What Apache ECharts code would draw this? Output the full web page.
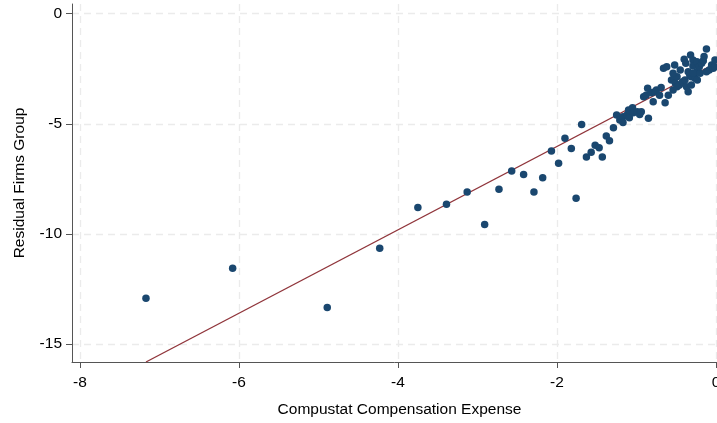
<!DOCTYPE html>
<html>
<head>
<meta charset="utf-8">
<script src="https://cdn.jsdelivr.net/npm/echarts@6/dist/echarts.min.js"></script>
<style>
  html, body { margin: 0; padding: 0; background: #ffffff; }
  #chart { width: 717px; height: 423px; }
</style>
</head>
<body>
<div id="chart"></div>
<script>
// Compensation expense (x) vs. residual firms group (y), one entry per group
const compensation = [
  -7.17, -6.08, -4.89, -4.23, -3.75, -3.39, -3.13, -2.91, -2.73, -2.57,
  -2.42, -2.29, -2.18, -2.07, -1.98, -1.90, -1.82, -1.76, -1.69, -1.63,
  -1.57, -1.52, -1.47, -1.43, -1.38, -1.34, -1.29, -1.25,
  -1.21, -1.17, -1.17, -1.12, -1.09, -1.05, -1.10, -1.04, -0.99, -0.96,
  -0.94, -0.85, -0.91, -0.88, -0.86, -0.81, -0.79, -0.77, -0.75, -0.71,
  -0.69, -0.64, -0.60, -0.54, -0.56, -0.53, -0.51, -0.49, -0.49, -0.46,
  -0.42, -0.39, -0.37, -0.35, -0.31, -0.33, -0.31, -0.26, -0.235, -0.24,
  -0.20, -0.66, -0.62, -0.52, -0.54, -0.45, -0.35, -0.40, -0.38, -0.32,
  -0.29, -0.29, -0.24, -0.21, -0.18, -0.16, -0.15, -0.12, -0.085, -0.055,
  -0.034, -0.013, -0.013, -0.12, -0.29
];
const residual = [
  -12.92, -11.56, -13.34, -10.65, -8.80, -8.66, -8.10, -9.57, -7.97, -7.15,
  -7.30, -8.10, -7.45, -6.24, -6.79, -5.66, -6.12, -8.38, -5.03, -6.51,
  -6.29, -5.97, -6.09, -6.51, -5.55, -5.77, -5.18, -4.60,
  -4.83, -4.68, -4.94, -4.60, -4.73, -4.27, -4.38, -4.50, -4.45, -4.58,
  -4.45, -4.75, -3.77, -3.70, -3.39, -3.59, -4.00, -3.55, -3.47, -3.70,
  -3.35, -4.05, -3.70, -3.47, -3.01, -2.94, -3.16, -3.32, -2.86, -3.24,
  -3.09, -3.01, -3.32, -3.55, -3.24, -2.79, -2.86, -2.94, -3.01, -2.64,
  -2.71, -2.48, -2.41, -2.33, -2.71, -2.56, -2.64, -2.07, -2.25, -1.88,
  -2.10, -2.38, -2.18, -2.41, -2.25, -2.14, -1.95, -1.60, -2.56, -2.33,
  -2.48, -2.10, -2.41, -2.64, -2.71
];

// Linear fit endpoints (x, fitted y)
const fitX = [-7.17, 0.013];
const fitY = [-15.82, -2.22];

// Tick values
const xTicks = [-8, -6, -4, -2, 0];
const yTicks = [-15, -10, -5, 0];

const points = compensation.map((x, i) => [x, residual[i]]);
const fitLine = fitX.map((x, i) => [x, fitY[i]]);

const FONT = '"Liberation Sans", Arial, sans-serif';
const gridLine = { show: true, lineStyle: { color: '#ebebeb', width: 1.3, type: [7, 5] } };

const chart = echarts.init(document.getElementById('chart'), null, { renderer: 'canvas' });
chart.setOption({
  animation: false,
  backgroundColor: '#ffffff',
  grid: { left: 72, right: 0, top: 4, bottom: 61, containLabel: false, outerBoundsMode: 'none' },
  xAxis: {
    type: 'value',
    min: -8.1006,
    max: 0.0126,
    name: 'Compustat Compensation Expense',
    nameLocation: 'middle',
    nameGap: 40,
    nameTextStyle: { color: '#000', fontSize: 15.5, fontFamily: FONT, padding: [0, 0, 0, 10] },
    axisLine: { show: true, onZero: false, lineStyle: { color: '#555', width: 1 } },
    axisTick: { show: true, length: 6, customValues: xTicks, lineStyle: { color: '#555' } },
    axisLabel: { customValues: xTicks, color: '#000', fontSize: 15.5, fontFamily: FONT, margin: 13 },
    splitLine: gridLine
  },
  yAxis: {
    type: 'value',
    min: -15.82,
    max: 0.44,
    name: 'Residual Firms Group',
    nameLocation: 'middle',
    nameGap: 44,
    nameTextStyle: { color: '#000', fontSize: 15.5, fontFamily: FONT },
    axisLine: { show: true, onZero: false, lineStyle: { color: '#555', width: 1 } },
    axisTick: { show: true, length: 6, customValues: yTicks, lineStyle: { color: '#555' } },
    axisLabel: { customValues: yTicks, color: '#000', fontSize: 15.5, fontFamily: FONT, margin: 10 },
    splitLine: gridLine
  },
  series: [
    {
      type: 'scatter',
      data: points,
      symbol: 'circle',
      symbolSize: 7.5,
      itemStyle: { color: '#1a476f', opacity: 1 },
      z: 3
    },
    {
      type: 'line',
      data: fitLine,
      symbol: 'none',
      lineStyle: { color: '#90353b', width: 1.4 },
      z: 2
    }
  ]
});
</script>
</body>
</html>
